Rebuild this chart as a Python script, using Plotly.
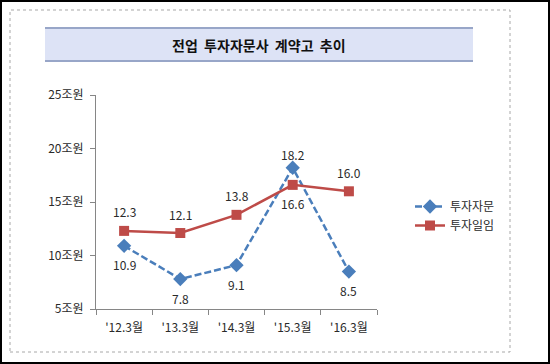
import plotly.graph_objects as go

categories = ["'12.3월", "'13.3월", "'14.3월", "'15.3월", "'16.3월"]
advisory = [10.9, 7.8, 9.1, 18.2, 8.5]        # 투자자문
discretionary = [12.3, 12.1, 13.8, 16.6, 16.0]  # 투자일임
advisory_label_above = [False, False, False, True, False]
discretionary_label_above = [True, True, True, False, True]

W, H = 550, 364
L, R, T, B = 96, 377, 95, 309
FONT = "Noto Sans CJK KR"

def px(x):
    return (x - L) / (R - L)

def py(y):
    return (B - y) / (B - T)

fig = go.Figure()
fig.add_trace(go.Scatter(
    x=categories, y=advisory, name="투자자문", mode="lines+markers",
    line=dict(color="#4a7ebb", width=2.5, dash="7px,3px"),
    marker=dict(symbol="diamond", size=11, color="#4a7ebb"),
))
fig.add_trace(go.Scatter(
    x=categories, y=discretionary, name="투자일임", mode="lines+markers",
    line=dict(color="#be4b48", width=2.5),
    marker=dict(symbol="square", size=10, color="#be4b48"),
))

annotations = []
for series, above in ((advisory, advisory_label_above), (discretionary, discretionary_label_above)):
    for c, v, a in zip(categories, series, above):
        shift = (13 if v > 18 else 19) if a else -19
        annotations.append(dict(x=c, y=v, xref="x", yref="y", text=f"{v:.1f}", showarrow=False,
                                yshift=shift, xanchor="center", yanchor="middle",
                                font=dict(size=12, color="#2a2a2a", family=FONT)))

annotations.append(dict(text="<b>전업&nbsp; 투자자문사&nbsp; 계약고&nbsp; 추이</b>", xref="paper", yref="paper",
                        x=px(259), y=py(45), xanchor="center", yanchor="middle", showarrow=False,
                        font=dict(size=14, color="#111111", family=FONT)))

shapes = [
    dict(type="rect", xref="paper", yref="paper", x0=px(1), x1=px(549), y0=py(363), y1=py(1),
         line=dict(color="black", width=2), layer="below"),
    dict(type="rect", xref="paper", yref="paper", x0=px(10), x1=px(510), y0=py(352), y1=py(10),
         line=dict(color="#a8a8a8", width=1, dash="dot"), layer="below"),
    dict(type="rect", xref="paper", yref="paper", x0=px(45), x1=px(473), y0=py(61), y1=py(28),
         line=dict(width=0), fillcolor="#dde3f6", layer="below"),
    dict(type="line", xref="paper", yref="paper", x0=px(45), x1=px(473), y0=py(28), y1=py(28),
         line=dict(color="#98a6c8", width=2)),
    dict(type="line", xref="paper", yref="paper", x0=px(45), x1=px(473), y0=py(61), y1=py(61),
         line=dict(color="#98a6c8", width=2)),
]

fig.update_layout(
    width=W, height=H,
    margin=dict(l=L, r=W - R, t=T, b=H - B, pad=0),
    paper_bgcolor="white", plot_bgcolor="white",
    font=dict(family=FONT, size=11, color="#2a2a2a"),
    shapes=shapes,
    annotations=annotations,
    showlegend=True,
    legend=dict(x=px(410), y=py(192), xanchor="left", yanchor="top",
                bgcolor="rgba(0,0,0,0)", font=dict(size=12, color="#2a2a2a", family=FONT),
                itemwidth=30, tracegroupgap=4),
    xaxis=dict(type="category", range=[-0.5, 4.5], showline=True, linecolor="#868686", linewidth=1,
               ticks="outside", tickson="boundaries", ticklen=5, tickcolor="#868686",
               ticklabelstandoff=8,
               showgrid=False, zeroline=False, tickfont=dict(size=12, color="#2a2a2a")),
    yaxis=dict(range=[5, 25], dtick=5, ticksuffix="조원", showline=True, linecolor="#868686",
               linewidth=1, ticks="outside", ticklen=5, tickcolor="#868686", showgrid=False,
               ticklabelstandoff=4,
               zeroline=False, tickfont=dict(size=12, color="#2a2a2a")),
)

fig.write_html("out.html", config={"displayModeBar": False},
               post_script="document.body.style.margin='0';document.body.style.padding='0';")
